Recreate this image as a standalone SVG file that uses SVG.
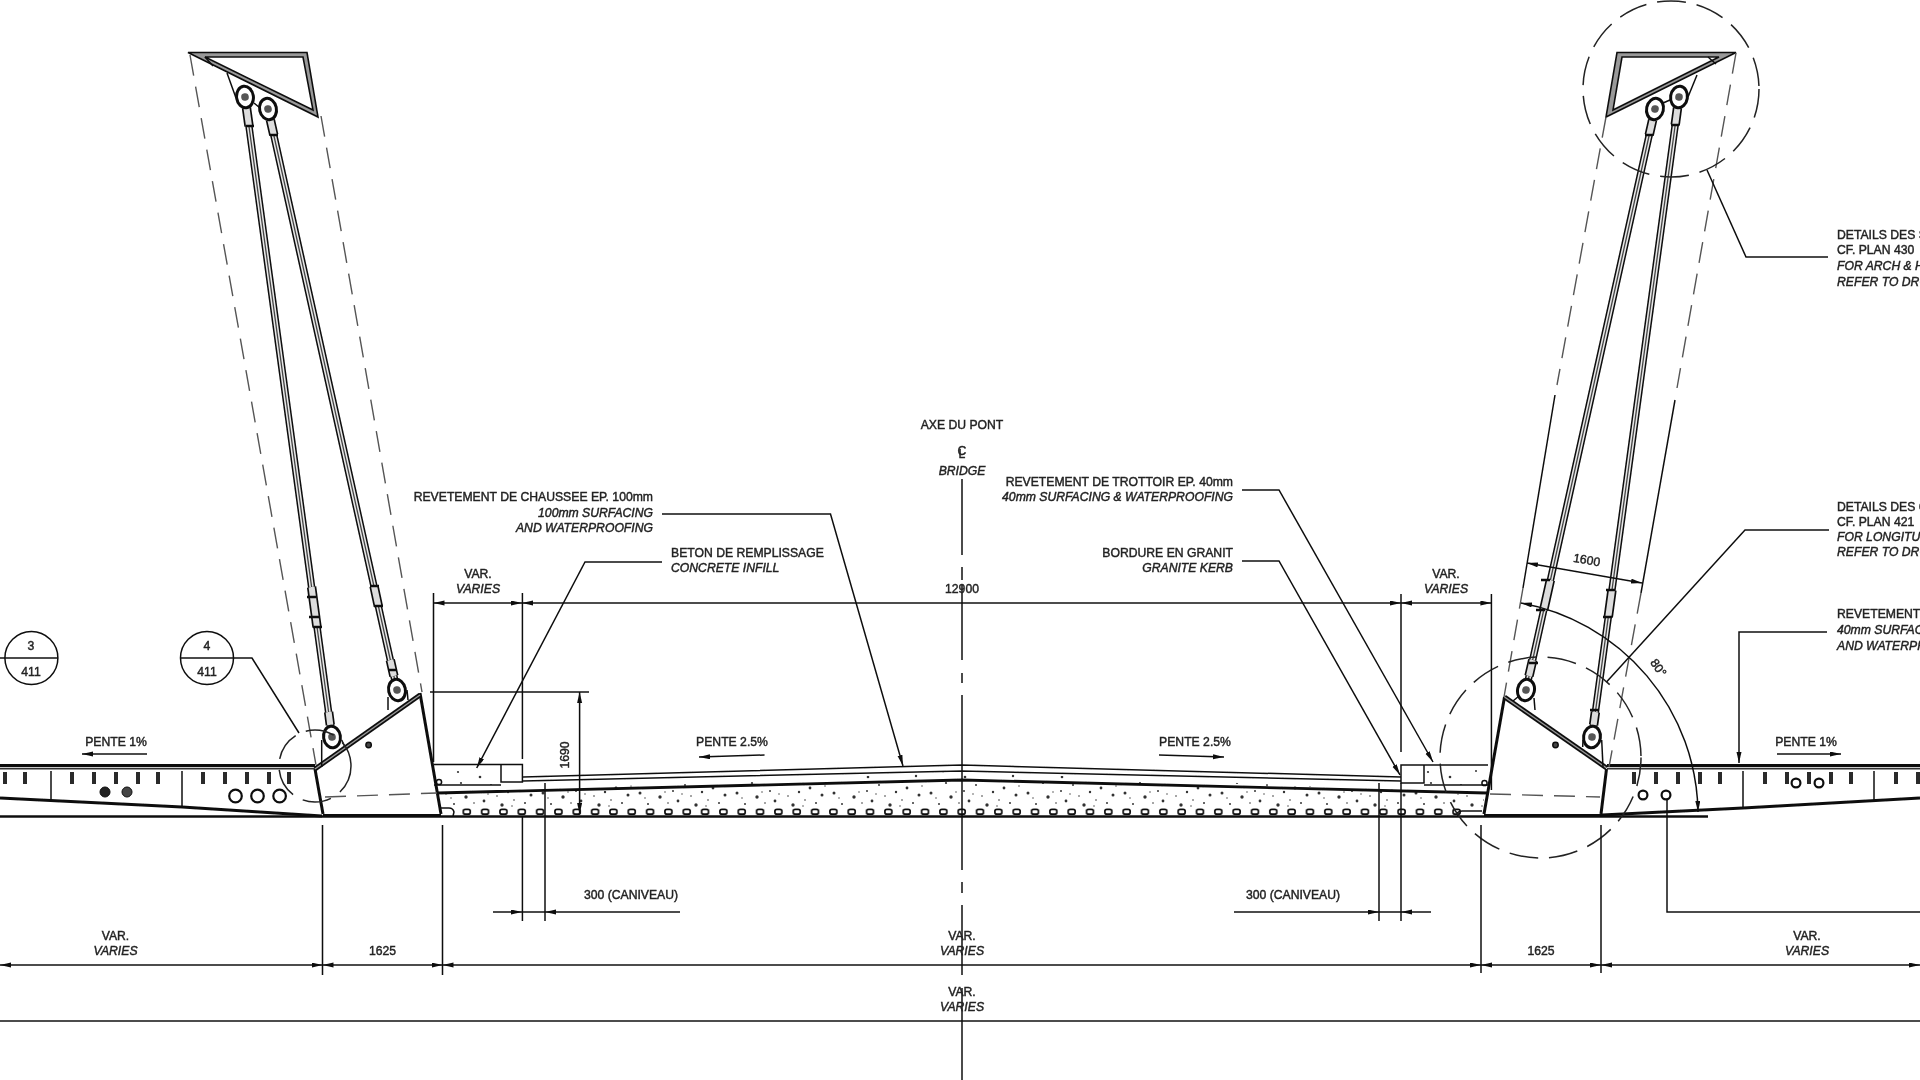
<svg xmlns="http://www.w3.org/2000/svg" xmlns:xlink="http://www.w3.org/1999/xlink" width="1920" height="1080" viewBox="0 0 1920 1080">
<style>
text{font-family:"Liberation Sans",Arial,sans-serif;font-size:12.2px;fill:#222;stroke:#222;stroke-width:.42;text-anchor:middle}
.i{font-style:italic}.s{text-anchor:start}.e{text-anchor:end}
.l,.l *{fill:none;stroke:#111;stroke-width:1.5}
.d{fill:none;stroke:#111;stroke-width:1.5;marker-start:url(#a);marker-end:url(#a)}
.m{fill:none;stroke:#111;stroke-width:1.5;marker-end:url(#a)}
.dash{fill:none;stroke:#555;stroke-width:1.4;stroke-dasharray:21 11}
.cd{fill:none;stroke:#222;stroke-width:1.5;stroke-dasharray:29 11}
.heavy{fill:none;stroke:#111;stroke-width:3}
.c1{fill:none;stroke:#0c0c0c;stroke-width:7.4}.c2{fill:none;stroke:#e8e8e8;stroke-width:4.4}.c3{fill:none;stroke:#444;stroke-width:1.3}
.t1{fill:none;stroke:#111;stroke-width:9.4}.t2{fill:none;stroke:#ddd;stroke-width:6}.b{fill:none;stroke:#111;stroke-width:2.6}
.frame{fill:#999;fill-rule:evenodd;stroke:#111;stroke-width:1.6}
.stud{fill:none;stroke:#2a2a2a;stroke-width:4}
</style>
<defs>
<filter id="soft" filterUnits="userSpaceOnUse" x="0" y="0" width="1920" height="1080"><feGaussianBlur stdDeviation="0.6"/></filter>
<marker id="a" markerUnits="userSpaceOnUse" markerWidth="12" markerHeight="6" refX="11" refY="2.5" orient="auto-start-reverse"><path d="M0,0L11,2.5L0,5Z" fill="#111"/></marker>
<pattern id="stipple" patternUnits="userSpaceOnUse" x="440" y="765" width="97" height="49">
<g fill="#333"><circle cx="6" cy="28" r="1.5"/><circle cx="14" cy="39" r="1"/><circle cx="21" cy="18" r="1.1"/><circle cx="26" cy="32" r="1.7"/><circle cx="34" cy="38" r=".8"/><circle cx="39" cy="26" r="1"/><circle cx="44" cy="36" r="1.4"/><circle cx="51" cy="20" r="1"/><circle cx="57" cy="31" r=".8"/><circle cx="62" cy="40" r="1.7"/><circle cx="68" cy="27" r="1.2"/><circle cx="74" cy="35" r=".8"/><circle cx="79" cy="23" r="1.4"/><circle cx="85" cy="38" r="1"/><circle cx="91" cy="30" r="1.5"/><circle cx="11" cy="33" r=".7"/><circle cx="31" cy="27" r=".7"/><circle cx="48" cy="29" r=".7"/><circle cx="72" cy="41" r=".7"/><circle cx="94" cy="21" r=".7"/><circle cx="18" cy="7" r="1.1"/><circle cx="40" cy="12" r="1.3"/><circle cx="66" cy="6" r="1"/><circle cx="88" cy="11" r="1.2"/></g>
</pattern>
<pattern id="rebars" patternUnits="userSpaceOnUse" x="952.5" y="808" width="18.33" height="8"><rect x="5.7" y="1.4" width="7" height="4.8" rx="2" fill="#fff" stroke="#111" stroke-width="1.7"/></pattern>
<g id="ball"><ellipse rx="8.4" ry="10.8" fill="#fff" stroke="#0c0c0c" stroke-width="3"/><circle r="3.8" fill="#555"/></g>
<path id="cables" d="M245,97L332,737M268,109L397,690M1655,109L1526,690M1679,97L1592,737"/>
<path id="buckles" d="M311.6,587L317,627M374,586L378.3,606M246.5,108L249,126M330.3,725L328.6,712M270.4,120L273.8,135M393.9,676L390.3,660M1550.4,580L1543.7,610M1612,590L1608.3,617M1652.6,120L1649.2,135M1529,676L1532.7,660M1677.5,108L1675.2,125M1593.6,725L1595.4,712"/>
<path id="studs" d="M0,772v12M22,772v12M44,772v12M66,772v12M86,772v12"/>
</defs>
<rect width="1920" height="1080" fill="#fff"/>
<g filter="url(#soft)">

<g id="deck-left">
<path class="heavy" d="M0,765.500H315"/><path d="M0,768.600H315" fill="none" stroke="#333" stroke-width="1.6"/>
<path class="heavy" d="M0,798L182,807L322,816"/>
<path class="l" d="M51,771V800M182,771V807"/>
<use xlink:href="#studs" href="#studs" class="stud" transform="translate(-61,0)"/>
<use xlink:href="#studs" href="#studs" class="stud" transform="translate(72,0)"/>
<use xlink:href="#studs" href="#studs" class="stud" transform="translate(203,0)"/>
<circle cx="105" cy="792" r="5" fill="#222" stroke="#111"/><circle cx="127" cy="792" r="5" fill="#444" stroke="#111"/>
<g fill="none" stroke="#111" stroke-width="2.2"><circle cx="235.500" cy="796" r="6.300"/><circle cx="257.500" cy="796" r="6.300"/><circle cx="279.600" cy="796" r="6.300"/></g>
</g>

<g id="deck-right">
<path class="heavy" d="M1607,765.500H1920"/><path d="M1607,768.600H1920" fill="none" stroke="#333" stroke-width="1.6"/>
<path class="heavy" d="M1602,815L1743,808L1920,798"/>
<path class="l" d="M1743,771V808M1874,771V800"/>
<use xlink:href="#studs" href="#studs" class="stud" transform="translate(1634,0)"/>
<use xlink:href="#studs" href="#studs" class="stud" transform="translate(1765,0)"/>
<use xlink:href="#studs" href="#studs" class="stud" transform="translate(1896,0)"/>
<g fill="none" stroke="#111" stroke-width="2.2"><circle cx="1643" cy="795" r="4.400"/><circle cx="1666" cy="795" r="4.400"/><circle cx="1796" cy="783" r="4.400"/><circle cx="1819" cy="783" r="4.400"/></g>
</g>

<g id="slab">
<path d="M440,793L962,772L1484,793V814H440Z" fill="url(#stipple)"/>
<rect x="458" y="808" width="1006" height="8" fill="url(#rebars)"/>
<path d="M0,816.500H1708" fill="none" stroke="#111" stroke-width="2.6"/>
<path d="M437,793L962,780L1487,793" fill="none" stroke="#111" stroke-width="2.8"/>
<path class="l" d="M523,777L962,765L1401,777"/>
<path class="l" d="M523,781L962,771L1401,781"/>
<path class="l" d="M441,808h8q4,0 5,4l-1,4"/>
<path class="l" d="M1458,816q-3,-4 4,-5h20"/>
</g>

<g id="kerb-left">
<rect x="434" y="765" width="67" height="20" fill="url(#stipple)"/>
<path class="l" d="M434,764.500H522.400V782H501V764.500M434,785H501"/>
</g>
<g id="kerb-right">
<rect x="1424" y="765" width="64" height="20" fill="url(#stipple)"/>
<path class="l" d="M1488,765H1401V783H1424V765M1424,785H1488"/>
</g>

<g id="abutment-left">
<path class="heavy" d="M420,693L441,814M315,769L323,814"/>
<path d="M323,815.500H441" fill="none" stroke="#111" stroke-width="2.800"/>
<path d="M315,769L420,695" fill="none" stroke="#111" stroke-width="4.800"/><path d="M315,769L420,695" fill="none" stroke="#999" stroke-width="1.300"/>
<path class="l" d="M321.700,740V767M341.700,740L345,747M388,697V710M407,690L408,700"/>
<circle cx="368.600" cy="745" r="2.700" fill="#444" stroke="#111" stroke-width="1.500"/>
<circle cx="439" cy="782" r="2.600" fill="none" stroke="#111" stroke-width="1.500"/>
<path class="dash" d="M325,797L437,793"/>
</g>

<g id="abutment-right">
<path class="heavy" d="M1504.500,697L1484,814M1606.500,769L1601,814"/>
<path d="M1484,815.500H1602" fill="none" stroke="#111" stroke-width="2.800"/>
<path d="M1504.500,697L1606.500,768" fill="none" stroke="#111" stroke-width="4.800"/><path d="M1504.500,697L1606.500,768" fill="none" stroke="#999" stroke-width="1.300"/>
<path class="l" d="M1534,698L1535,710M1519,696L1513,701M1601.700,740L1603,767M1583,740L1582.700,747"/>
<circle cx="1555.500" cy="745" r="2.700" fill="#444" stroke="#111" stroke-width="1.500"/>
<circle cx="1484.500" cy="783" r="2.600" fill="none" stroke="#111" stroke-width="1.500"/>
<path class="dash" d="M1490,794L1600,797"/>
</g>

<g id="hanger-frames">
<path class="frame" d="M188,52.500H307L318,117ZM205,57L303,57L313,110Z"/>
<path class="frame" d="M1617,52.500H1736L1606,117ZM1622,57L1719,57L1613,110Z"/>
<path class="l" d="M227,73L236,98M205,57L213,66M1697,75L1688,97M1708,57L1716,64M254,103L260,108M1663,103L1670,100"/>
</g>

<g id="hangers">
<use xlink:href="#cables" href="#cables" class="c1"/><use xlink:href="#cables" href="#cables" class="c2"/><use xlink:href="#cables" href="#cables" class="c3"/>
<use xlink:href="#buckles" href="#buckles" class="t1"/><use xlink:href="#buckles" href="#buckles" class="t2"/>
<path class="b" d="M307,597h9M309,617h10M313,627h9M370,586h9M374,606h9M388,670h9M1541,580h9M1536,610h9M1529,663h9M1606,590h9M1603,617h9M1590,710h9M246,126h8M270,135h8M1645,135h8M1671,125h8"/>
<use xlink:href="#ball" href="#ball" transform="translate(245,97) rotate(-8)"/>
<use xlink:href="#ball" href="#ball" transform="translate(268,109) rotate(-12)"/>
<use xlink:href="#ball" href="#ball" transform="translate(332,737) rotate(-8)"/>
<use xlink:href="#ball" href="#ball" transform="translate(397,690) rotate(-12)"/>
<use xlink:href="#ball" href="#ball" transform="translate(1655,109) rotate(12)"/>
<use xlink:href="#ball" href="#ball" transform="translate(1679,97) rotate(8)"/>
<use xlink:href="#ball" href="#ball" transform="translate(1526,690) rotate(12)"/>
<use xlink:href="#ball" href="#ball" transform="translate(1592,737) rotate(8)"/>
</g>

<g id="outlines">
<path class="dash" d="M190,55L316,765M321,116L422,692"/>
<path class="dash" d="M1606,117L1557,385"/><path class="dash" d="M1523,588L1504,697"/>
<path class="dash" d="M1736,53L1677,388"/><path class="dash" d="M1641,593L1609,767"/>
<circle class="cd" cx="315" cy="766" r="36" stroke-dasharray="24 9"/>
<circle class="cd" cx="1540.500" cy="757.500" r="100.500"/>
<circle class="cd" cx="1671" cy="89" r="88"/>
</g>

<g id="connectors">
<path class="l" d="M0,658H58M181,658H252L299,733"/>
<path class="m" d="M662,514H830.500L903,766"/>
<path class="m" d="M662,562H585L476.700,768"/>
<path class="m" d="M1242,490H1279L1433,762"/>
<path class="m" d="M1242,561H1279L1400,775"/>
<path class="l" d="M1707,170L1746,257H1828"/>
<path class="l" d="M1829,530H1745L1606.500,682"/>
<path class="m" d="M1827,632H1739V763"/>
<path class="l" d="M1920,912H1667V800"/>
<path class="m" d="M147,754H82"/>
<path class="m" d="M1777,754H1841"/>
<path class="m" d="M764.500,755L699,757"/>
<path class="m" d="M1159,755L1224,757"/>
<path class="d" d="M433.500,603H522"/><path class="d" d="M522,603H1401"/><path class="d" d="M1401,603H1491.400"/>
<path class="l" d="M433.500,593V762M522.400,593V759M522.400,816V921M545,783V921M1401,594V752M1401,783V921M1379,783V921M1491.400,594V790"/>
<path class="l" d="M430,692H589"/>
<path class="d" d="M579.600,692V814"/>
<path class="m" d="M493,912H522"/><path class="m" d="M680,912H545"/>
<path class="m" d="M1234,912H1379"/><path class="m" d="M1431,912H1401"/>
<path class="l" d="M522,912H545M1379,912H1401"/>
<path class="l" d="M322.500,825V975M442.500,825V975M1481,825V973M1601,825V973"/>
<path class="d" d="M0,965H322.500"/><path class="d" d="M322.500,965H442.500"/><path class="d" d="M442.500,965H1481"/><path class="d" d="M1481,965H1601"/><path class="d" d="M1601,965H1920"/>
<path class="l" d="M0,1021H1920"/>
<path class="l" d="M962,479V555M962,567V580M962,585V660M962,673V683M962,695V870M962,882V893M962,905V975M962,988V1080"/>
<path class="l" d="M1555,395L1523,588M1675,400L1641,593"/>
<path class="d" d="M1527,563L1642,583"/>
<path class="d" d="M1521,603A216,216 0 0 1 1698,812"/>
</g>

<g id="labels">
<circle cx="31.400" cy="658" r="26.500" fill="none" stroke="#111" stroke-width="1.500"/>
<circle cx="207" cy="658" r="26.500" fill="none" stroke="#111" stroke-width="1.500"/>
<text x="31" y="649.500">3</text><text x="31" y="675.500">411</text>
<text x="207" y="649.500">4</text><text x="207" y="675.500">411</text>
<text x="116" y="746">PENTE 1%</text>
<text x="1806" y="746">PENTE 1%</text>
<text x="732" y="746">PENTE 2.5%</text>
<text x="1195" y="746">PENTE 2.5%</text>
<text x="962" y="429">AXE DU PONT</text>
<text x="962" y="455" font-size="11">C</text><text x="962" y="458" font-size="10">L</text>
<text x="962" y="475" class="i">BRIDGE</text>
<text x="962" y="593">12900</text>
<text x="653" y="501" class="e">REVETEMENT DE CHAUSSEE EP. 100mm</text>
<text x="653" y="517" class="e i">100mm SURFACING</text>
<text x="653" y="532" class="e i">AND WATERPROOFING</text>
<text x="671" y="557" class="s">BETON DE REMPLISSAGE</text>
<text x="671" y="572" class="s i">CONCRETE INFILL</text>
<text x="1233" y="486" class="e">REVETEMENT DE TROTTOIR EP. 40mm</text>
<text x="1233" y="501" class="e i">40mm SURFACING &amp; WATERPROOFING</text>
<text x="1233" y="557" class="e">BORDURE EN GRANIT</text>
<text x="1233" y="572" class="e i">GRANITE KERB</text>
<text x="478" y="578">VAR.</text><text x="478" y="593" class="i">VARIES</text>
<text x="1446" y="578">VAR.</text><text x="1446" y="593" class="i">VARIES</text>
<text x="115.500" y="940">VAR.</text><text x="115.500" y="955" class="i">VARIES</text>
<text x="962" y="940">VAR.</text><text x="962" y="955" class="i">VARIES</text>
<text x="962" y="996">VAR.</text><text x="962" y="1011" class="i">VARIES</text>
<text x="1807" y="940">VAR.</text><text x="1807" y="955" class="i">VARIES</text>
<text x="382.500" y="955">1625</text><text x="1541" y="955">1625</text>
<text x="631" y="899">300 (CANIVEAU)</text><text x="1293" y="899">300 (CANIVEAU)</text>
<text transform="translate(569,755) rotate(-90)">1690</text>
<text transform="translate(1586,564) rotate(10)">1600</text>
<text transform="translate(1655,670) rotate(55)">80°</text>
<text x="1837" y="239" class="s">DETAILS DES S</text>
<text x="1837" y="254" class="s">CF. PLAN 430</text>
<text x="1837" y="270" class="s i">FOR ARCH &amp; H</text>
<text x="1837" y="286" class="s i">REFER TO DRG</text>
<text x="1837" y="511" class="s">DETAILS DES C</text>
<text x="1837" y="526" class="s">CF. PLAN 421</text>
<text x="1837" y="541" class="s i">FOR LONGITUD</text>
<text x="1837" y="556" class="s i">REFER TO DRG</text>
<text x="1837" y="618" class="s">REVETEMENT</text>
<text x="1837" y="634" class="s i">40mm SURFAC</text>
<text x="1837" y="650" class="s i">AND WATERPR</text>
</g>
</g>
</svg>
